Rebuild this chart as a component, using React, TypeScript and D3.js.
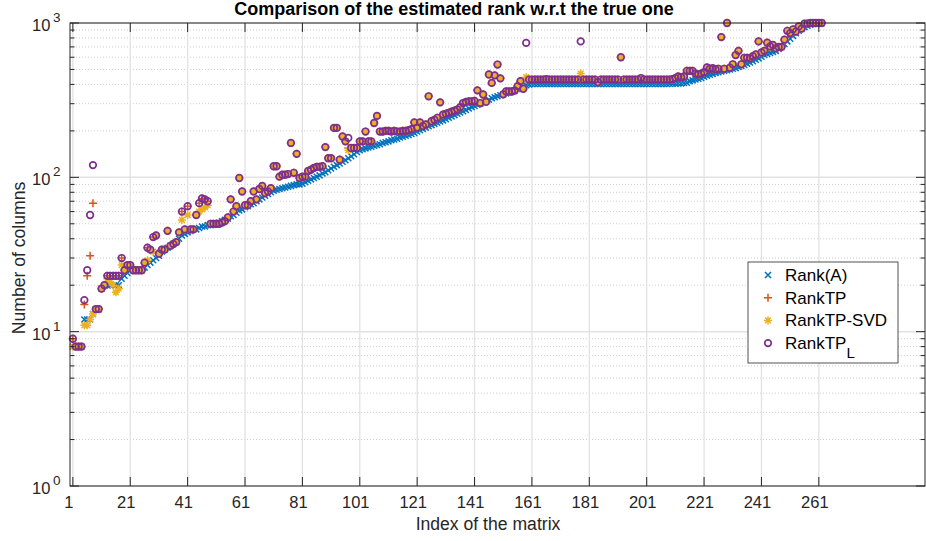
import React from "react";
import * as d3 from "d3";

// estimated rank per matrix index (1..262)
const rankA = [
  8, 8, 8, 8, 12, 12, 12, 13, 14, 14,
  19, 20, 20, 20, 20, 20, 20, 22, 23, 24,
  25, 25, 25, 25, 25, 26, 27, 28, 29, 30,
  31, 33, 34, 35, 36, 37, 38, 40, 42, 43,
  44, 45, 46, 46, 47, 48, 48, 49, 49, 50,
  50, 51, 52, 53, 54, 56, 57, 59, 61, 62,
  64, 65, 67, 68, 70, 72, 74, 76, 78, 80,
  82, 83, 84, 85, 86, 87, 88, 89, 90, 90,
  91, 93, 95, 97, 99, 101, 103, 106, 108, 111,
  114, 117, 120, 123, 126, 129, 133, 137, 141, 146,
  150, 152, 154, 156, 158, 160, 162, 164, 167, 169,
  171, 174, 176, 178, 181, 183, 186, 188, 191, 194,
  198, 202, 206, 210, 214, 218, 222, 226, 230, 234,
  238, 243, 248, 253, 258, 263, 268, 273, 279, 285,
  290, 295, 300, 305, 310, 318, 325, 330, 335, 340,
  345, 350, 355, 360, 365, 372, 380, 388, 395, 400,
  402, 402, 402, 402, 402, 402, 402, 402, 402, 402,
  402, 402, 402, 402, 402, 402, 402, 402, 402, 402,
  402, 402, 402, 402, 402, 402, 402, 402, 402, 402,
  402, 402, 402, 402, 402, 402, 402, 402, 402, 402,
  402, 402, 402, 403, 403, 403, 403, 403, 404, 404,
  404, 405, 406, 408, 410, 420, 425, 430, 435, 440,
  448, 456, 462, 468, 475, 480, 485, 490, 495, 500,
  505, 510, 518, 526, 535, 545, 555, 565, 578, 590,
  605, 620, 630, 640, 650, 660, 680, 700, 730, 760,
  790, 825, 860, 890, 915, 940, 960, 975, 985, 995,
  1000, 1000,
];

const rankTP = [
  9, 8, 8, 8, 15, 23, 31, 68, 14, 14,
  19, 20, 23, 23, 23, 23, 23, 30, 25, 27,
  27, 25, 25, 25, 25, 28, 35, 34, 41, 42,
  32, 34, 34, 45, 36, 37, 38, 44, 60, 46,
  65, 46, 46, 57, 68, 73, 72, 70, 50, 50,
  50, 50, 51, 52, 55, 72, 60, 65, 99, 81,
  66, 66, 70, 81, 72, 84, 88, 79, 81, 85,
  118, 118, 101, 104, 104, 105, 167, 107, 142, 99,
  101, 101, 110, 112, 115, 117, 117, 118, 157, 133,
  133, 209, 209, 130, 184, 171, 155, 155, 155, 155,
  171, 171, 198, 171, 171, 225, 250, 198, 198, 200,
  200, 198, 200, 198, 198, 200, 200, 202, 205, 227,
  210, 227, 215, 220, 335, 231, 236, 243, 306, 255,
  258, 262, 266, 270, 275, 285, 303, 308, 311, 311,
  313, 366, 303, 344, 308, 464, 409, 458, 538, 438,
  345, 360, 360, 360, 365, 390, 420, 375, 430, 430,
  430, 430, 430, 430, 430, 432, 430, 430, 430, 430,
  430, 430, 430, 430, 430, 430, 430, 430, 430, 430,
  430, 430, 430, 413, 430, 430, 430, 430, 430, 430,
  430, 600, 430, 430, 430, 430, 430, 430, 440, 430,
  430, 430, 430, 430, 430, 430, 430, 430, 430, 432,
  440, 450, 445, 450, 490, 490, 490, 470, 464, 470,
  480, 515, 505, 510, 500, 505, 810, 505, 1000, 513,
  540, 620, 660, 540, 595, 595, 590, 610, 625, 760,
  645, 660, 745, 705, 720, 685, 700, 700, 780, 890,
  860, 910, 880, 950, 920, 990, 990, 1000, 1000, 1000,
  1000, 1000,
];

const rankSVD = [
  8, 8, 8, 8, 11, 11, 12, 13, 14, 14,
  19, 20, 22, 21, 20, 18, 19, 27, 25, 27,
  27, 25, 25, 25, 25, 28, 29, 34, 33, 42,
  32, 34, 34, 45, 36, 37, 38, 44, 53, 46,
  57, 46, 46, 57, 60, 62, 64, 66, 50, 50,
  50, 50, 51, 52, 55, 72, 60, 65, 99, 81,
  66, 66, 70, 81, 72, 84, 88, 79, 81, 85,
  118, 118, 101, 104, 104, 105, 167, 107, 142, 99,
  101, 101, 110, 112, 115, 117, 117, 118, 157, 133,
  133, 209, 209, 130, 184, 171, 150, 155, 155, 155,
  171, 171, 198, 171, 171, 225, 250, 198, 198, 200,
  200, 198, 200, 198, 198, 200, 200, 202, 205, 227,
  210, 227, 215, 220, 335, 231, 236, 243, 306, 255,
  258, 262, 266, 270, 275, 285, 303, 308, 311, 311,
  313, 366, 303, 344, 308, 464, 409, 458, 538, 438,
  345, 360, 360, 360, 365, 390, 420, 375, 445, 430,
  430, 430, 430, 430, 430, 432, 430, 430, 430, 430,
  430, 430, 430, 430, 430, 430, 430, 470, 430, 430,
  430, 430, 430, 413, 430, 430, 430, 430, 430, 430,
  430, 600, 430, 430, 430, 430, 430, 430, 440, 430,
  430, 430, 430, 430, 430, 430, 430, 430, 430, 432,
  440, 450, 445, 450, 490, 490, 490, 470, 464, 470,
  480, 515, 505, 510, 500, 505, 810, 505, 1000, 513,
  540, 620, 660, 540, 595, 595, 590, 610, 625, 760,
  645, 660, 745, 705, 720, 685, 700, 700, 780, 890,
  860, 910, 880, 950, 920, 990, 990, 1000, 1000, 1000,
  1000, 1000,
];

const rankTPL = [
  9, 8, 8, 8, 16, 25, 57, 120, 14, 14,
  19, 20, 23, 23, 23, 23, 23, 30, 25, 27,
  27, 25, 25, 25, 25, 28, 35, 34, 41, 42,
  32, 34, 34, 45, 36, 37, 38, 44, 60, 46,
  65, 46, 46, 57, 68, 73, 72, 70, 50, 50,
  50, 50, 51, 52, 55, 72, 60, 65, 99, 81,
  66, 66, 70, 81, 72, 84, 88, 79, 81, 85,
  118, 118, 101, 104, 104, 105, 167, 107, 142, 99,
  101, 101, 110, 112, 115, 117, 117, 118, 157, 133,
  133, 209, 209, 130, 184, 171, 180, 155, 155, 155,
  171, 171, 198, 171, 171, 225, 250, 198, 198, 200,
  200, 198, 200, 198, 198, 200, 200, 202, 205, 227,
  210, 227, 215, 220, 335, 231, 236, 243, 306, 255,
  258, 262, 266, 270, 275, 285, 303, 308, 311, 311,
  313, 366, 303, 344, 308, 464, 409, 458, 538, 438,
  345, 360, 360, 360, 365, 390, 420, 375, 743, 430,
  430, 430, 430, 430, 430, 432, 430, 430, 430, 430,
  430, 430, 430, 430, 430, 430, 430, 760, 430, 430,
  430, 430, 430, 413, 430, 430, 430, 430, 430, 430,
  430, 600, 430, 430, 430, 430, 430, 430, 440, 430,
  430, 430, 430, 430, 430, 430, 430, 430, 430, 432,
  440, 450, 445, 450, 490, 490, 490, 470, 464, 470,
  480, 515, 505, 510, 500, 505, 810, 505, 1000, 513,
  540, 620, 660, 540, 595, 595, 590, 610, 625, 760,
  645, 660, 745, 705, 720, 685, 700, 700, 780, 890,
  860, 910, 880, 950, 920, 990, 990, 1000, 1000, 1000,
  1000, 1000,
];

const xTicks = [1, 21, 41, 61, 81, 101, 121, 141, 161, 181, 201, 221, 241, 261];
const yDecades = [1, 10, 100, 1000];

const W = 926;
const H = 541;
const left = 70;
const right = 925;
const top = 23;
const bottom = 486;

const ink = "#262626";
const font = "'Liberation Sans', Arial, Helvetica, sans-serif";

const x = d3.scaleLinear().domain([0, 298]).range([left, right]);
const y = d3.scaleLog().domain([1, 1000]).range([bottom, top]);

const minorTicks = y.ticks().filter((v) => !yDecades.includes(v));

// marker shapes, centred on 0,0
const crossPath = (s: number) => `M${-s},${-s}L${s},${s}M${-s},${s}L${s},${-s}`;
const plusPath = (s: number) => `M${-s},0L${s},0M0,${-s}L0,${s}`;
const starPath = (s: number) => plusPath(s) + crossPath(s * 0.72);

type Series = {
  name: string;
  values: number[];
  color: string;
  kind: "x" | "+" | "*" | "o";
};

const series: Series[] = [
  { name: "Rank(A)", values: rankA, color: "#0072BD", kind: "x" },
  { name: "RankTP", values: rankTP, color: "#D95319", kind: "+" },
  { name: "RankTP-SVD", values: rankSVD, color: "#EDB120", kind: "*" },
  { name: "RankTP", values: rankTPL, color: "#7E2F8E", kind: "o" },
];

const Marker = ({ kind, cx, cy, color }: { kind: Series["kind"]; cx: number; cy: number; color: string }) => {
  if (kind === "o")
    return <circle cx={cx} cy={cy} r={3.3} fill="none" stroke={color} strokeWidth={1.7} />;
  const d = kind === "x" ? crossPath(3) : kind === "+" ? plusPath(4) : starPath(4);
  return <path transform={`translate(${cx},${cy})`} d={d} stroke={color} strokeWidth={1.5} fill="none" />;
};

const App = () => {
  const legendX = 748;
  const legendY = 262;
  return (
    <svg
      width={W}
      height={H}
      style={{ position: "absolute", left: 0, top: 0, background: "#fff" }}
      fontFamily={font}
    >
      <rect x={0} y={0} width={W} height={H} fill="#fff" />

      {/* minor grid */}
      {minorTicks.map((v) => (
        <line key={"mg" + v} x1={left} x2={right} y1={y(v)} y2={y(v)} stroke="#cfcfcf" strokeWidth={1} strokeDasharray="1,2" />
      ))}
      {/* major grid */}
      {xTicks.map((t) => (
        <line key={"gx" + t} x1={x(t)} x2={x(t)} y1={top} y2={bottom} stroke="#e2e2e2" strokeWidth={1.3} />
      ))}
      {yDecades.map((t) => (
        <line key={"gy" + t} x1={left} x2={right} y1={y(t)} y2={y(t)} stroke="#e2e2e2" strokeWidth={1.5} />
      ))}

      {/* data */}
      {series.map((s) => (
        <g key={s.color}>
          {s.values.map((v, i) => (
            <Marker key={i} kind={s.kind} cx={x(i + 1)} cy={y(v)} color={s.color} />
          ))}
        </g>
      ))}

      {/* box + ticks */}
      <rect x={left} y={top} width={right - left} height={bottom - top} fill="none" stroke={ink} strokeWidth={1} />
      {xTicks.map((t) => (
        <g key={"tx" + t}>
          <line x1={x(t)} x2={x(t)} y1={bottom} y2={bottom - 9} stroke={ink} />
          <line x1={x(t)} x2={x(t)} y1={top} y2={top + 9} stroke={ink} />
          <text x={x(t) - 4} y={508} fontSize={16.5} fill={ink} textAnchor="middle">
            {t}
          </text>
        </g>
      ))}
      {yDecades.map((t) => (
        <g key={"ty" + t}>
          <line x1={left} x2={left + 9} y1={y(t)} y2={y(t)} stroke={ink} />
          <line x1={right} x2={right - 9} y1={y(t)} y2={y(t)} stroke={ink} />
          <text x={32} y={y(t) + 8} fontSize={16.5} fill={ink}>
            10
          </text>
          <text x={53} y={y(t) - 1} fontSize={13.5} fill={ink}>
            {Math.round(Math.log10(t))}
          </text>
        </g>
      ))}
      {minorTicks.map((v) => (
        <g key={"mt" + v}>
          <line x1={left} x2={left + 4.5} y1={y(v)} y2={y(v)} stroke={ink} />
          <line x1={right} x2={right - 4.5} y1={y(v)} y2={y(v)} stroke={ink} />
        </g>
      ))}

      {/* labels */}
      <text x={454} y={15} fontSize={18} fontWeight="bold" textAnchor="middle" fill="#000">
        Comparison of the estimated rank w.r.t the true one
      </text>
      <text x={488} y={530} fontSize={17.6} textAnchor="middle" fill={ink}>
        Index of the matrix
      </text>
      <text transform="translate(25,258) rotate(-90)" fontSize={17.6} textAnchor="middle" fill={ink}>
        Number of columns
      </text>

      {/* legend */}
      <rect x={legendX} y={legendY} width={150} height={101} fill="#fff" stroke={ink} strokeWidth={0.8} />
      {series.map((s, i) => {
        const cy = legendY + 13 + i * 22.7;
        return (
          <g key={"lg" + i}>
            <Marker kind={s.kind} cx={legendX + 20} cy={cy} color={s.color} />
            <text x={legendX + 37} y={cy + 6} fontSize={17} fill="#000">
              {s.name}
              {s.kind === "o" && (
                <tspan dy={9} fontSize={15}>
                  L
                </tspan>
              )}
            </text>
          </g>
        );
      })}
    </svg>
  );
};

export default App;
